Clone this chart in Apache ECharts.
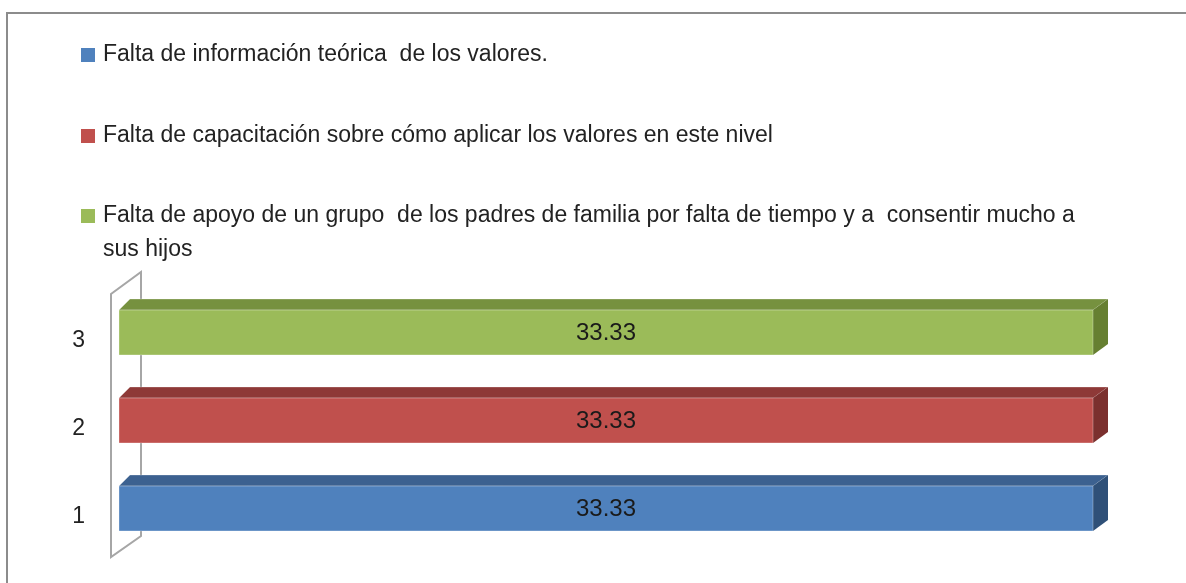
<!DOCTYPE html>
<html>
<head>
<meta charset="utf-8">
<script src="https://cdn.jsdelivr.net/npm/echarts@6/dist/echarts.min.js"></script>
<style>
  html, body { margin: 0; padding: 0; background: #fff; }
  #chart { width: 1186px; height: 583px; }
</style>
</head>
<body>
<div id="chart"></div>
<script>
const categories = ['1', '2', '3'];
const seriesNames = [
  'Falta de información teórica  de los valores.',
  'Falta de capacitación sobre cómo aplicar los valores en este nivel',
  'Falta de apoyo de un grupo  de los padres de familia por falta de tiempo y a  consentir mucho a sus hijos'
];
const seriesValues = [33.33, 33.33, 33.33];

// front / top / side shades for each series
const frontColors = ['#4F81BD', '#C0504D', '#9BBB59'];
const topColors = ['#3C6190', '#8E3937', '#76913F'];
const sideColors = ['#2F5078', '#7B302E', '#667F31'];

const FONT = '"Liberation Sans", Arial, sans-serif';

function renderWall(params, api) {
  const cs = params.coordSys;
  const x = cs.x, y = cs.y, h = cs.height;
  return {
    type: 'polygon',
    shape: {
      points: [
        [x - 8, y + h + 4.5],
        [x - 8, y + 5.5],
        [x + 22, y - 16.5],
        [x + 22, y + h - 16.5]
      ]
    },
    style: { fill: 'none', stroke: '#a6a6a6', lineWidth: 2 },
    silent: true
  };
}

function makeRenderBar(idx) {
  return function (params, api) {
    const val = api.value(0);
    const cat = api.value(1);
    const start = api.coord([0, cat]);
    const end = api.coord([val, cat]);
    const h = api.size([0, 1])[1] * 0.51;
    const x0 = start[0], x1 = end[0];
    const yT = end[1] - h / 2, yB = end[1] + h / 2;
    const dl = 11, dr = 15, dy = 11;
    return {
      type: 'group',
      children: [
        {
          type: 'polygon',
          shape: { points: [[x0, yT], [x0 + dl, yT - dy], [x1 + dr, yT - dy], [x1, yT]] },
          style: { fill: topColors[idx], stroke: 'rgba(255,255,255,0.25)', lineWidth: 1 }
        },
        {
          type: 'polygon',
          shape: { points: [[x1, yT], [x1 + dr, yT - dy], [x1 + dr, yB - dy], [x1, yB]] },
          style: { fill: sideColors[idx] }
        },
        {
          type: 'rect',
          shape: { x: x0, y: yT, width: x1 - x0, height: h },
          style: { fill: frontColors[idx], stroke: 'rgba(255,255,255,0.3)', lineWidth: 1 }
        },
        {
          type: 'text',
          style: {
            text: String(val),
            x: (x0 + x1) / 2,
            y: end[1] + 1,
            align: 'center',
            verticalAlign: 'middle',
            fill: '#1a1a1a',
            font: '24px ' + FONT
          }
        }
      ]
    };
  };
}

const barSeries = seriesNames.map(function (name, i) {
  return {
    name: name,
    type: 'custom',
    renderItem: makeRenderBar(i),
    itemStyle: { color: frontColors[i] },
    encode: { x: 0, y: 1 },
    data: [[seriesValues[i], i]],
    z: 3
  };
});

const legendBase = {
  orient: 'vertical',
  left: 81,
  padding: 0,
  itemWidth: 14,
  itemHeight: 14,
  icon: 'rect',
  selectedMode: false,
  textStyle: { fontFamily: FONT, fontSize: 23, color: '#222', lineHeight: 24, padding: [0, 0, 0, 3] }
};

const chart = echarts.init(document.getElementById('chart'), null, { renderer: 'canvas' });
chart.setOption({
  animation: false,
  grid: { left: 119, right: 93, top: 288.5, bottom: 30.5 },
  legend: [
    Object.assign({}, legendBase, { data: [seriesNames[0]], top: 43 }),
    Object.assign({}, legendBase, { data: [seriesNames[1]], top: 124 }),
    Object.assign({}, legendBase, {
      data: [seriesNames[2]],
      top: 165,
      // leading empty line keeps the marker level with the first text line
      formatter: function (n) { return '\n' + n.replace(' sus hijos', '\nsus hijos'); },
      textStyle: { fontFamily: FONT, fontSize: 23, color: '#222', lineHeight: 34, padding: [0, 0, 0, 3] }
    })
  ],
  graphic: [{
    type: 'rect',
    shape: { x: 7, y: 13, width: 1400, height: 800 },
    style: { fill: 'none', stroke: '#8c8c8c', lineWidth: 2 },
    silent: true
  }],
  xAxis: {
    type: 'value',
    min: 0,
    max: 'dataMax',
    show: false
  },
  yAxis: {
    type: 'category',
    data: categories,
    axisLine: { show: false },
    axisTick: { show: false },
    splitLine: { show: false },
    axisLabel: {
      margin: 34,
      verticalAlign: 'top',
      lineHeight: 16,
      fontFamily: FONT,
      fontSize: 23,
      color: '#222'
    }
  },
  series: [{
    type: 'custom',
    renderItem: renderWall,
    data: [[0, 0]],
    encode: { x: 0, y: 1 },
    silent: true,
    z: 1
  }].concat(barSeries)
});
</script>
</body>
</html>
